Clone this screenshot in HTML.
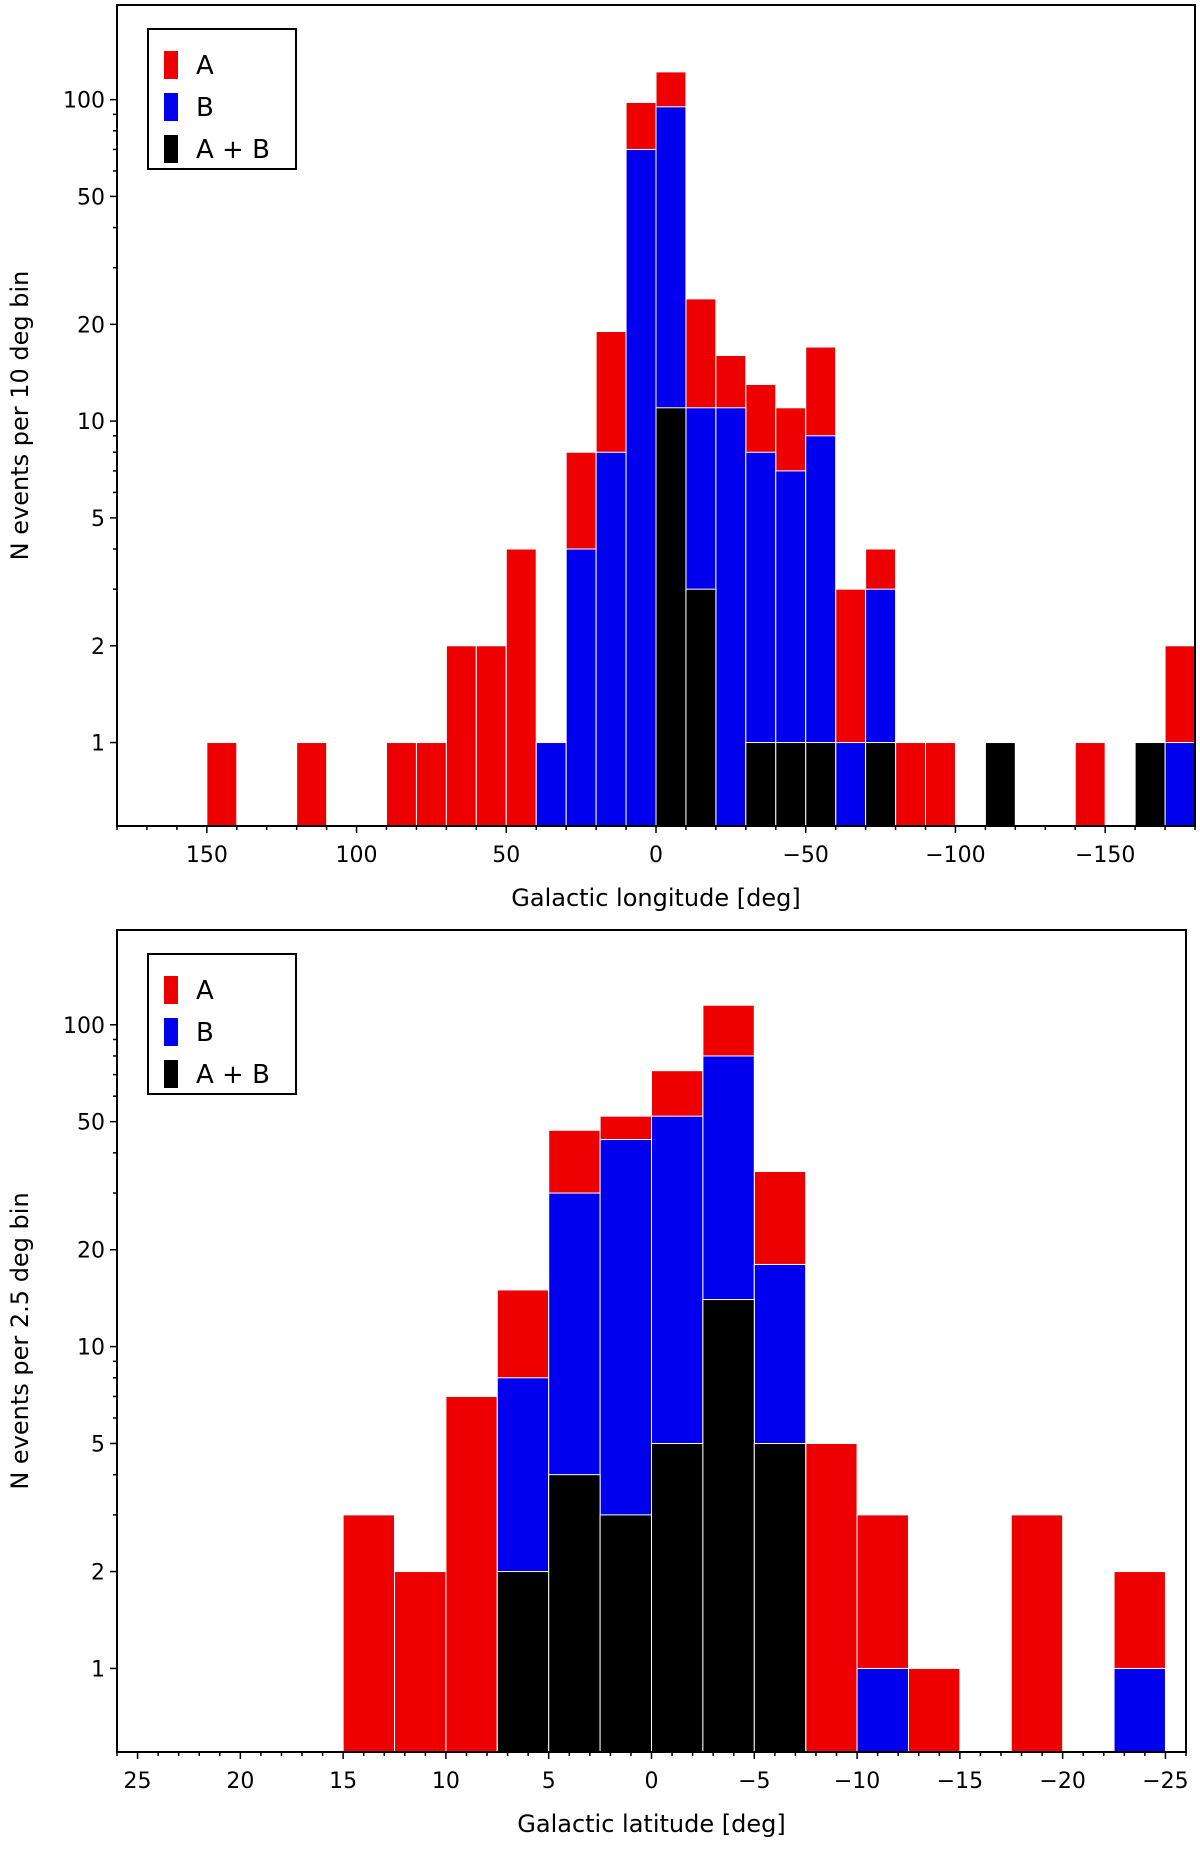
<!DOCTYPE html>
<html><head><meta charset="utf-8"><style>
body{margin:0;background:#fff;}
svg{display:block;font-family:"DejaVu Sans","Liberation Sans",sans-serif;}
</style></head><body>
<svg id="s" width="1200" height="1849" xmlns="http://www.w3.org/2000/svg"></svg>
<script>
// Top chart data (galactic longitude, 10 deg bins; bin left edges in degrees)
const lonEdges = [150,120,90,80,70,60,50,40,30,20,10,0,-10,-20,-30,-40,-50,-60,-70,-80,-90,-110,-140,-160,-170];
const lonA     = [1,1,1,1,2,2,4,0,8,19,98,122,24,16,13,11,17,3,4,1,1,0,1,0,2];
const lonB     = [0,0,0,0,0,0,0,1,4,8,70,95,11,11,8,7,9,1,3,0,0,0,0,0,1];
const lonAB    = [0,0,0,0,0,0,0,0,0,0,0,11,3,0,1,1,1,0,1,0,0,1,0,1,0];
const lonTicks = [150,100,50,0,-50,-100,-150];
// Bottom chart data (galactic latitude, 2.5 deg bins)
const latEdges = [15,12.5,10,7.5,5,2.5,0,-2.5,-5,-7.5,-10,-12.5,-17.5,-22.5];
const latA     = [3,2,7,15,47,52,72,115,35,5,3,1,3,2];
const latB     = [0,0,0,8,30,44,52,80,18,0,1,0,0,1];
const latAB    = [0,0,0,2,4,3,5,14,5,0,0,0,0,0];
const latTicks = [25,20,15,10,5,0,-5,-10,-15,-20,-25];
const yTicks = [1,2,5,10,20,50,100];

const svg=document.getElementById('s');
const NS='http://www.w3.org/2000/svg';
function el(tag,attrs,parent){const e=document.createElementNS(NS,tag);for(const k in attrs)e.setAttribute(k,attrs[k]);(parent||svg).appendChild(e);return e;}
function fmt(v){return v<0?'\u2212'+(-v):String(v);}

function chart(cfg){
  const g=el('g',{});
  
  
  const L=cfg.L,R=cfg.R,T=cfg.T,B=cfg.B;
  const xs=v=>L+(cfg.x0-v)/(cfg.x0-cfg.x1)*(R-L);
  const ly0=Math.log10(cfg.y0),ly1=Math.log10(cfg.y1);
  const ys=v=>B-(Math.log10(v)-ly0)/(ly1-ly0)*(B-T);
  const series=[[cfg.A,'#ee0000','bar-a'],[cfg.Bv,'#0000ee','bar-b'],[cfg.AB,'#000000','bar-ab']];
  series.forEach(([arr,col,nm])=>{
    arr.forEach((v,i)=>{
      if(v<=0)return;
      const xa=xs(cfg.edges[i]),xb=xs(cfg.edges[i]-cfg.w);
      const r=el('rect',{x:xa,y:ys(v),width:xb-xa,height:B-ys(v),fill:col,stroke:'#fff','stroke-width':1},g);
      
      
    });
  });
  const fr=el('rect',{x:L,y:T,width:R-L,height:B-T,fill:'none',stroke:'#000','stroke-width':2},g);
  
  
  // y ticks
  for(let d=0;d<3;d++)for(let m=1;m<10;m++){
    const v=m*Math.pow(10,d);
    if(v<cfg.y0||v>cfg.y1)continue;
    const y=ys(v);const major=[1,2,5].includes(m);
    el('line',{x1:L-(major?7:4),x2:L,y1:y,y2:y,stroke:'#000','stroke-width':1.5},g);
  }
  yTicks.forEach(v=>{
    const t=el('text',{x:L-12,y:ys(v)+8,'text-anchor':'end','font-size':22},g);
    t.textContent=v;
    
    
  });
  // x ticks
  for(let v=Math.ceil(cfg.x1/cfg.minor)*cfg.minor;v<=cfg.x0;v+=cfg.minor){
    const x=xs(v);const major=cfg.ticks.includes(v);
    el('line',{x1:x,x2:x,y1:B,y2:B+(major?7:4),stroke:'#000','stroke-width':1.5},g);
  }
  cfg.ticks.forEach(v=>{
    const t=el('text',{x:xs(v),y:B+36,'text-anchor':'middle','font-size':22},g);
    t.textContent=fmt(v);
    
    
  });
  const xl=el('text',{x:(L+R)/2,y:B+80,'text-anchor':'middle','font-size':24},g);
  xl.textContent=cfg.xlabel;
  
  
  const yl=el('text',{x:0,y:0,'text-anchor':'middle','font-size':24,transform:`translate(28,${(T+B)/2}) rotate(-90)`},g);
  yl.textContent=cfg.ylabel;
  
  
  // legend
  const lg=el('g',{},g);
  
  
  el('rect',{x:L+31,y:T+24,width:148,height:140,fill:'#fff',stroke:'#000','stroke-width':2},lg);
  [['A','#ee0000'],['B','#0000ee'],['A + B','#000']].forEach(([lab,col],i)=>{
    const y=T+46+i*42;
    const sw=el('rect',{x:L+47,y:y,width:14,height:28,fill:col},lg);
    
    
    const t=el('text',{x:L+79,y:y+23,'font-size':26},lg);
    t.textContent=lab;
    
    
  });
}
chart({name:'longitude-histogram',L:117,R:1195,T:5,B:826,x0:180,x1:-180,y0:0.55,y1:197,w:10,minor:10,
  edges:lonEdges,A:lonA,Bv:lonB,AB:lonAB,ticks:lonTicks,xlabel:'Galactic longitude [deg]',ylabel:'N events per 10 deg bin'});
chart({name:'latitude-histogram',L:117,R:1186,T:930,B:1752,x0:26,x1:-26,y0:0.55,y1:197,w:2.5,minor:1,
  edges:latEdges,A:latA,Bv:latB,AB:latAB,ticks:latTicks,xlabel:'Galactic latitude [deg]',ylabel:'N events per 2.5 deg bin'});
</script>
</body></html>
